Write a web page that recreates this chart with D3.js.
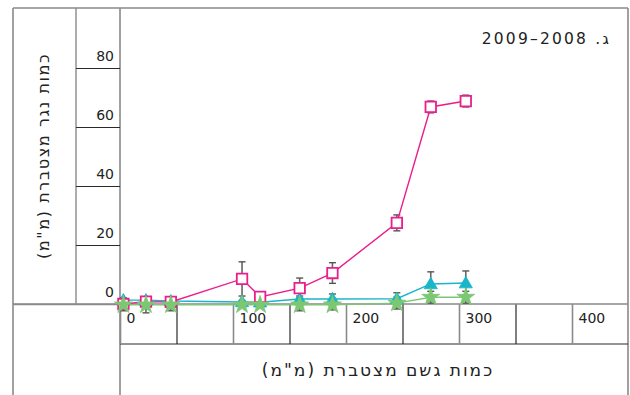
<!DOCTYPE html>
<html lang="he">
<head>
<meta charset="utf-8">
<script src="https://cdn.jsdelivr.net/npm/d3@7"></script>
<style>
  html, body { margin: 0; padding: 0; background: #fff; }
  svg text { font-family: "DejaVu Sans", sans-serif; }
</style>
</head>
<body>
<svg id="chart" width="630" height="395"></svg>
<script>
// Cumulative rainfall (mm) at each sampling point
const rainfall = [3, 23, 45, 108, 124, 159, 188, 245, 275, 306];

// Cumulative runoff (mm) per treatment, with error (±)
const runoffSquares   = [0, 0.8, 0.7, 8.5, 2.4, 5.4, 10.5, 27.5, 66.8, 68.8];
const errSquares      = [2, 1, 1, 5.8, 0.5, 3.4, 3.5, 2.7, 2, 2];
const runoffTriangles = [1.3, 1.3, 1, 0.7, 0.6, 1.7, 1.7, 1.8, 6.8, 7.1];
const errTriangles    = [0.8, 0.8, 0.8, 0.5, 0.5, 1, 1.7, 2, 4.1, 4.1];
const runoffStars     = [-0.3, -0.3, -0.3, -0.3, -0.3, -0.3, -0.3, 0.3, 2.3, 2.3];
const errStars        = [2, 2.7, 2, 0.5, 0.5, 2, 1.7, 2, 2, 2];

const yTicks = [0, 20, 40, 60, 80];
const xTicks = [0, 50, 100, 150, 200, 250, 300, 350, 400];
const xTickLabels = ["0", "", "100", "", "200", "", "300", "", "400"];

const title = "ג. 2008–2009";
const yTitle = "כמות נגר מצטברת (מ\"מ)";
const xTitle = "כמות גשם מצטברת (מ\"מ)";

const FONT = "'DejaVu Sans', sans-serif";
const svg = d3.select("#chart");

const x = d3.scaleLinear().domain([0, 450]).range([120, 628.5]);
const y = d3.scaleLinear().domain([0, 80]).range([304, 68]);

const frame = "#8a8a8a", dark = "#2a2a2a";

// table-like frame
const g = svg.append("g");
g.append("line").attr("x1", 13).attr("x2", 628).attr("y1", 8).attr("y2", 8)
  .attr("stroke", frame).attr("stroke-width", 1.6);
g.append("line").attr("x1", 13).attr("x2", 13).attr("y1", 8).attr("y2", 400)
  .attr("stroke", frame).attr("stroke-width", 1.6);
g.append("line").attr("x1", 628).attr("x2", 628).attr("y1", 8).attr("y2", 400)
  .attr("stroke", frame).attr("stroke-width", 1.6);
g.append("line").attr("x1", 76).attr("x2", 76).attr("y1", 8).attr("y2", y(0))
  .attr("stroke", frame).attr("stroke-width", 1.4);
g.append("line").attr("x1", 120).attr("x2", 120).attr("y1", 8).attr("y2", 400)
  .attr("stroke", frame).attr("stroke-width", 1.6);
g.append("line").attr("x1", 120).attr("x2", 628).attr("y1", 344).attr("y2", 344)
  .attr("stroke", dark).attr("stroke-width", 1.2);

// y axis cells
const yAxis = d3.axisLeft(y).tickValues(yTicks).tickSize(44).tickPadding(0).tickFormat("");
const ya = svg.append("g").attr("transform", "translate(120,0)").call(yAxis);
ya.select(".domain").remove();
ya.selectAll(".tick line").attr("stroke", dark).attr("stroke-width", 1.2)
  .filter(d => d === 0).attr("stroke", frame).attr("x2", -107).attr("stroke-width", 1.6);
ya.selectAll(".tick").append("text")
  .attr("x", -6).attr("y", -8)
  .attr("text-anchor", "end").attr("fill", "#222")
  .style("font-family", FONT).style("font-size", "14px")
  .text(d => d);

// x axis cells
const xAxis = d3.axisBottom(x).tickValues(xTicks).tickSize(40).tickFormat("");
const xa = svg.append("g").attr("transform", `translate(0,${y(0)})`).call(xAxis);
xa.select(".domain").remove();
xa.selectAll(".tick line")
  .attr("stroke", d => d % 100 === 0 ? frame : dark)
  .attr("stroke-width", d => d % 100 === 0 ? 1.6 : 1.2);
xa.selectAll(".tick").append("text")
  .attr("x", 6).attr("y", 19)
  .attr("text-anchor", "start").attr("fill", "#222")
  .style("font-family", FONT).style("font-size", "14px")
  .text((d, i) => xTickLabels[i]);
svg.append("line").attr("x1", 13).attr("x2", 628).attr("y1", y(0)).attr("y2", y(0))
  .attr("stroke", frame).attr("stroke-width", 1.6);

// titles
svg.append("text")
  .attr("x", 611).attr("y", 44)
  .attr("direction", "rtl").attr("text-anchor", "start")
  .attr("fill", "#222").style("font-family", FONT).style("font-size", "15.5px").style("letter-spacing", "2.2px")
  .text(title);
svg.append("text")
  .attr("transform", "translate(49,156) rotate(-90)")
  .attr("direction", "rtl").attr("text-anchor", "middle")
  .attr("fill", "#222").style("font-family", FONT).style("font-size", "16px").style("letter-spacing", "1.6px")
  .text(yTitle);
svg.append("text")
  .attr("x", 378).attr("y", 376)
  .attr("direction", "rtl").attr("text-anchor", "middle")
  .attr("fill", "#222").style("font-family", FONT).style("font-size", "17px").style("letter-spacing", "2px")
  .text(xTitle);

// series
const series = [
  { name: "triangles", values: runoffTriangles, err: errTriangles, color: "#19b5c8",
    symbol: d3.symbolTriangle, size: 75, fill: "#19b5c8" },
  { name: "squares", values: runoffSquares, err: errSquares, color: "#ea1e8c",
    symbol: d3.symbolSquare, size: 110, fill: "#fff" },
  { name: "stars", values: runoffStars, err: errStars, color: "#7cc872",
    symbol: d3.symbolStar, size: 100, fill: "#7cc872" }
];

const plot = svg.append("g");

// error bars
series.forEach(s => {
  const eb = plot.append("g").attr("class", "err-" + s.name);
  rainfall.forEach((r, i) => {
    const cx = x(r), top = y(s.values[i] + s.err[i]), bot = y(s.values[i] - s.err[i]);
    eb.append("line").attr("x1", cx).attr("x2", cx).attr("y1", top).attr("y2", bot)
      .attr("stroke", "#666").attr("stroke-width", 1.6);
    [top, bot].forEach(v => eb.append("line")
      .attr("x1", cx - 3.5).attr("x2", cx + 3.5).attr("y1", v).attr("y2", v)
      .attr("stroke", "#555").attr("stroke-width", 1.4));
  });
});

// lines
const line = d3.line().x((d, i) => x(rainfall[i])).y(d => y(d));
series.forEach(s => {
  plot.append("path").datum(s.values)
    .attr("fill", "none").attr("stroke", s.color).attr("stroke-width", 1.4)
    .attr("d", line);
});

// markers
series.forEach(s => {
  plot.append("g").selectAll("path").data(s.values).join("path")
    .attr("transform", (d, i) => `translate(${x(rainfall[i])},${y(d) + (s.symbol === d3.symbolTriangle ? 1 : 0)})`)
    .attr("d", d3.symbol(s.symbol, s.size))
    .attr("fill", s.fill)
    .attr("stroke", s.color)
    .attr("stroke-width", s.symbol === d3.symbolSquare ? 1.8 : 0.8);
});
</script>
</body>
</html>
